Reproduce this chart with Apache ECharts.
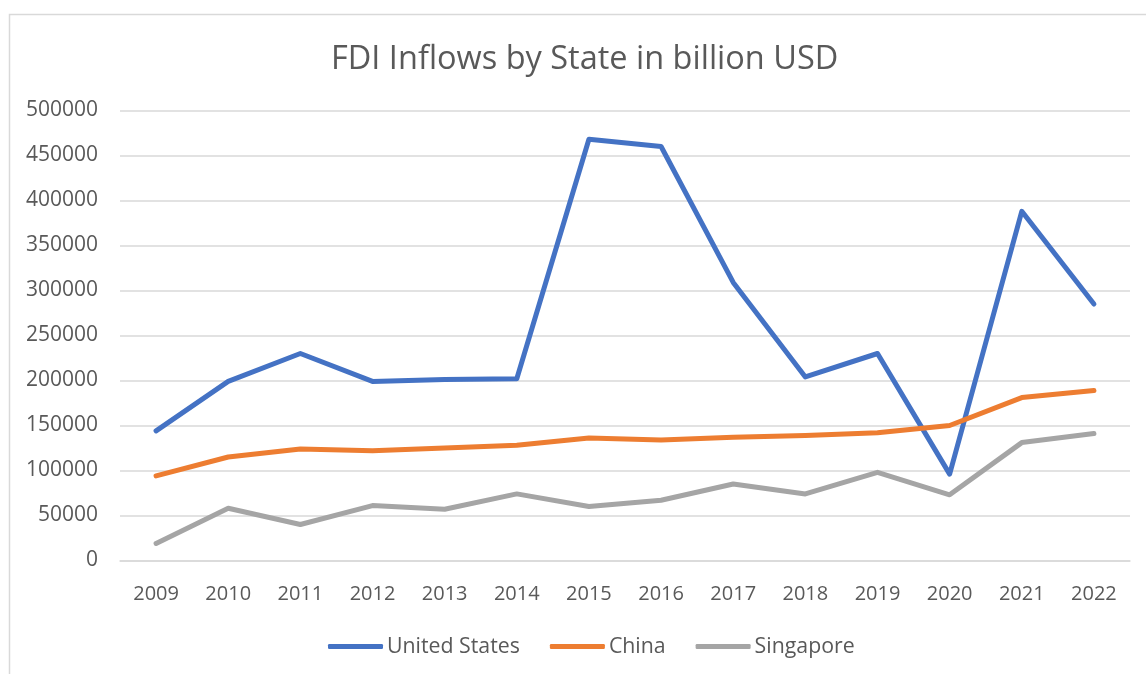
<!DOCTYPE html>
<html>
<head>
<meta charset="utf-8">
<script src="https://cdn.jsdelivr.net/npm/echarts@6/dist/echarts.min.js"></script>
<style>
html,body{margin:0;padding:0;background:#fff;}
#chart{width:1146px;height:674px;}
</style>
</head>
<body>
<div id="chart"></div>
<script>
const years = ['2009','2010','2011','2012','2013','2014','2015','2016','2017','2018','2019','2020','2021','2022'];
const unitedStates = [144000,199000,230000,199000,201000,202000,468000,460000,309000,204000,230000,96000,388000,285000];
const china = [94000,115000,124000,122000,125000,128000,136000,134000,137000,139000,142000,150000,181000,189000];
const singapore = [19000,58000,40000,61000,57000,74000,60000,67000,85000,74000,98000,73000,131000,141000];
const titleText = 'FDI Inflows by State in billion USD';

const FONT = 'Open Sans';
const TXT = '#595959';
const chart = echarts.init(document.getElementById('chart'), null, {renderer:'canvas'});
function lineSeries(name, data, color){
  return {
    name, type:'line', data, symbol:'none', smooth:false,
    lineStyle:{color, width:5, cap:'round', join:'round'},
    itemStyle:{color},
    z: 3
  };
}
chart.setOption({
  animation:false,
  backgroundColor:'#fff',
  title:{
    text:titleText, left:326, top:38,
    textStyle:{fontFamily:FONT, fontSize:32.5, fontWeight:'normal', color:TXT}
  },
  graphic:[{
    type:'rect', left:7, top:12, silent:true,
    shape:{x:0,y:0,width:1160,height:700},
    style:{fill:'none', stroke:'#D9D9D9', lineWidth:1.5}
  }],
  legend:{
    bottom:12, left:323,
    icon:'roundRect', itemWidth:55, itemHeight:5, itemGap:30,
    textStyle:{fontFamily:FONT, fontSize:21.3, color:TXT, padding:[0,0,0,-1]},
    data:['United States','China','Singapore']
  },
  grid:{left:120, right:16, top:110.5, bottom:113.5, containLabel:false},
  xAxis:{
    type:'category', data:years, boundaryGap:true,
    axisLine:{show:true, lineStyle:{color:'#D9D9D9', width:1.5}},
    axisTick:{show:false},
    axisLabel:{fontFamily:FONT, fontSize:20, color:TXT, margin:24}
  },
  yAxis:{
    type:'value', min:0, max:500000, interval:50000,
    axisLine:{show:false}, axisTick:{show:false},
    axisLabel:{fontFamily:FONT, fontSize:21, color:TXT, margin:22, formatter:v=>String(v)},
    splitLine:{lineStyle:{color:'#D9D9D9', width:1.5}}
  },
  series:[
    lineSeries('United States', unitedStates, '#4472C4'),
    lineSeries('China', china, '#ED7D31'),
    lineSeries('Singapore', singapore, '#A5A5A5')
  ]
});
</script>
</body>
</html>
